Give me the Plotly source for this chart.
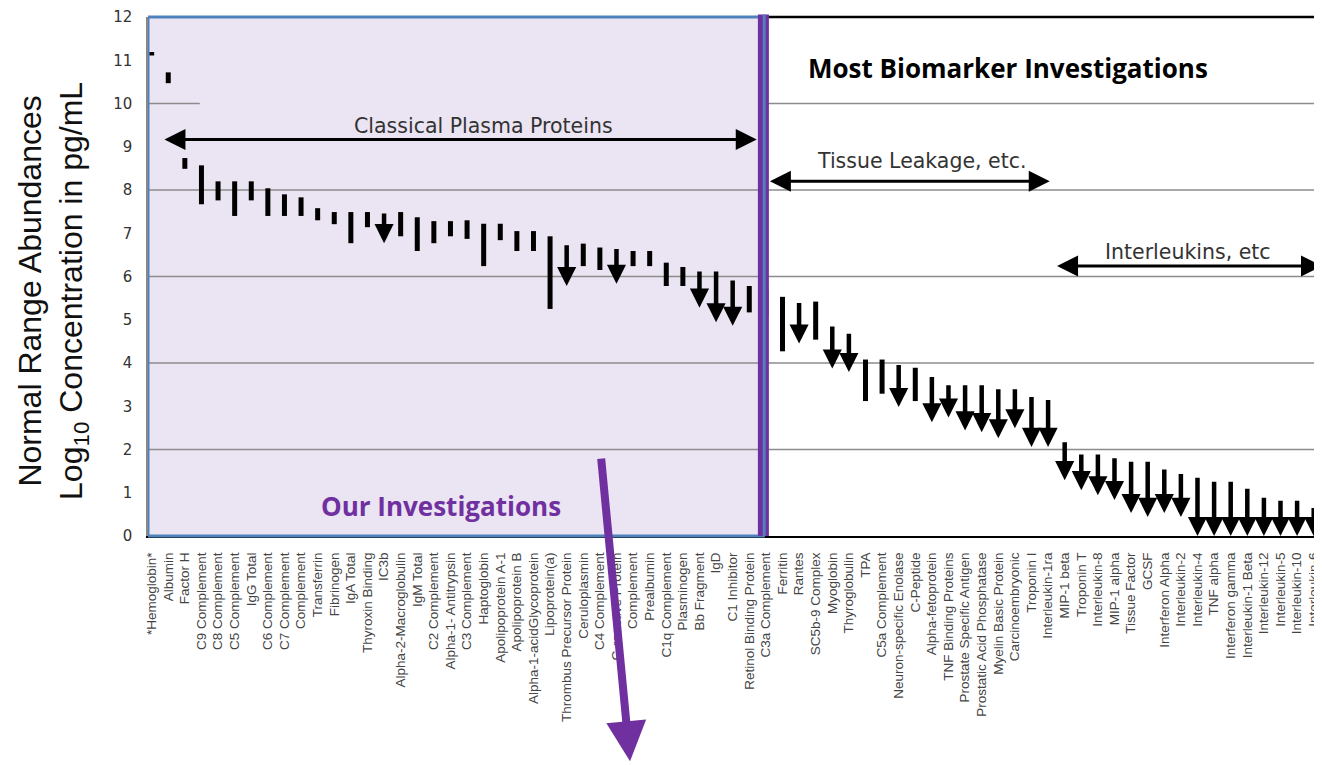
import plotly.graph_objects as go

# ---------------- data ----------------
NAMES = [
    "*Hemoglobin*", "Albumin", "Factor H", "C9 Complement", "C8 Complement",
    "C5 Complement", "IgG Total", "C6 Complement", "C7 Complement", "Complement",
    "Transferrin", "Fibrinogen", "IgA Total", "Thyroxin Binding", "IC3b",
    "Alpha-2-Macroglobulin", "IgM Total", "C2 Complement", "Alpha-1- Antitrypsin",
    "C3 Complement", "Haptoglobin", "Apolipoprotein A-1", "Apolipoprotein B",
    "Alpha-1-acidGlycoprotein", "Lipoprotein(a)", "Thrombus Precursor Protein",
    "Ceruloplasmin", "C4 Complement", "C-reactive Protein", "Complement",
    "Prealbumin", "C1q Complement", "Plasminogen", "Bb Fragment", "IgD",
    "C1 Inhibitor", "Retinol Binding Protein", "C3a Complement", "Ferritin",
    "Rantes", "SC5b-9 Complex", "Myoglobin", "Thyroglobulin", "TPA",
    "C5a Complement", "Neuron-specific Enolase", "C-Peptide", "Alpha-fetoprotein",
    "TNF Binding Proteins", "Prostate Specific Antigen", "Prostatic Acid Phosphatase",
    "Myelin Basic Protein", "Carcinoembryonic", "Troponin I", "Interleukin-1ra",
    "MIP-1 beta", "Troponin T", "Interleukin-8", "MIP-1 alpha", "Tissue Factor",
    "GCSF", "Interferon Alpha", "Interleukin-2", "Interleukin-4", "TNF alpha",
    "Interferon gamma", "Interleukin-1 Beta", "Interleukin-12", "Interleukin-5",
    "Interleukin-10", "Interleukin-6",
]
HIGH = [
    11.19, 10.72, 8.74, 8.57, 8.20, 8.20, 8.20, 8.04, 7.90, 7.83,
    7.58, 7.49, 7.49, 7.49, 7.49, 7.49, 7.37, 7.28, 7.28, 7.30,
    7.22, 7.22, 7.05, 7.05, 6.93, 6.76, 6.76, 6.67, 6.67, 6.59,
    6.59, 6.32, 6.22, 6.15, 6.15, 5.94, 5.78, 5.70, 5.53, 5.42,
    5.42, 4.88, 4.71, 4.08, 4.08, 3.99, 3.89, 3.71, 3.52, 3.52,
    3.52, 3.43, 3.43, 3.25, 3.18, 2.20, 1.92, 1.92, 1.83, 1.75,
    1.75, 1.57, 1.47, 1.38, 1.29, 1.29, 1.13, 0.92, 0.85, 0.85,
    0.68,
]
LOW = [
    11.11, 10.47, 8.49, 7.67, 7.76, 7.40, 7.76, 7.40, 7.40, 7.40,
    7.30, 7.21, 6.77, 7.14, 6.77, 6.93, 6.59, 6.77, 6.93, 6.87,
    6.24, 6.84, 6.59, 6.59, 5.25, 5.78, 6.24, 6.15, 5.83, 6.24,
    6.24, 5.78, 5.78, 5.28, 4.94, 4.86, 5.17, 5.10, 4.27, 4.45,
    4.54, 3.87, 3.79, 3.12, 3.29, 2.98, 3.12, 2.63, 2.74, 2.44,
    2.40, 2.26, 2.49, 2.06, 2.06, 1.29, 1.06, 0.94, 0.83, 0.53,
    0.44, 0.53, 0.44, 0.00, 0.00, 0.00, 0.00, 0.00, 0.00, 0.00,
    0.00,
]
# 1 = only an upper bound known (drawn as a down arrow), 0 = range bar
ARROW = [
    0, 0, 0, 0, 0, 0, 0, 0, 0, 0,
    0, 0, 0, 0, 1, 0, 0, 0, 0, 0,
    0, 0, 0, 0, 0, 1, 0, 0, 1, 0,
    0, 0, 0, 1, 1, 1, 0, 0, 0, 1,
    0, 1, 1, 0, 0, 1, 0, 1, 1, 1,
    1, 1, 1, 1, 1, 1, 1, 1, 1, 1,
    1, 1, 1, 1, 1, 1, 1, 1, 1, 1,
    1,
]
Y_TICKS = list(range(0, 13))
GRID_Y = [2, 4, 6, 8]

# ---------------- layout constants ----------------
XMIN, XMAX = -0.22, 70.5
SPLIT = 36.85          # boundary of "Our Investigations" region
PURPLE = "#7030a0"
BLUE = "#4f81bd"
LAVENDER = "#ebe4f2"
TXT = "#333333"

fig = go.Figure()

# range bars
bx, by = [], []
for i, (h, l, a) in enumerate(zip(HIGH, LOW, ARROW)):
    if not a:
        bx += [i, i, None]
        by += [h, l, None]
fig.add_trace(go.Scatter(x=bx, y=by, mode="lines",
                         line=dict(color="black", width=5),
                         hoverinfo="skip", showlegend=False))

annotations = []
# down arrows (upper limits)
for i, (h, l, a) in enumerate(zip(HIGH, LOW, ARROW)):
    if a:
        annotations.append(dict(
            x=i, y=l, ax=i, ay=h, xref="x", yref="y", axref="x", ayref="y",
            text="", showarrow=True, arrowhead=2, arrowsize=0.85,
            arrowwidth=4.5, arrowcolor="black", standoff=0))

# region double arrows
def dbl(x0, x1, y):
    return dict(x=x1, y=y, ax=x0, ay=y, xref="x", yref="y", axref="x", ayref="y",
                text="", showarrow=True, arrowhead=2, arrowside="end+start",
                arrowsize=1.4, arrowwidth=3, arrowcolor="black", standoff=0)

annotations += [
    dbl(0.68, 36.45, 9.17),
    dbl(37.15, 54.1, 8.2),
    dbl(54.45, 70.5, 6.24),
]

lab_font = dict(family="DejaVu Sans", size=20.5, color=TXT)
annotations += [
    dict(x=19.96, y=9.47, xref="x", yref="y", text="Classical Plasma Proteins",
         showarrow=False, font=lab_font),
    dict(x=46.4, y=8.66, xref="x", yref="y", text="Tissue Leakage, etc.",
         showarrow=False, font=lab_font),
    dict(x=62.4, y=6.56, xref="x", yref="y", text="Interleukins, etc",
         showarrow=False, font=lab_font),
    dict(x=51.6, y=10.82, xref="x", yref="y", text="<b>Most Biomarker Investigations</b>",
         showarrow=False, font=dict(family="Open Sans", size=26, color="black")),
    dict(x=17.43, y=0.69, xref="x", yref="y", text="<b>Our Investigations</b>",
         showarrow=False, font=dict(family="Open Sans", size=26, color=PURPLE)),
    # big purple arrow
    dict(x=0.4106, y=-0.4338, xref="paper", yref="paper", ax=-29, ay=-304,
         axref="pixel", ayref="pixel", text="", showarrow=True, arrowhead=2,
         arrowsize=1.0, arrowwidth=8, arrowcolor=PURPLE, standoff=0),
    # y-axis title
    dict(x=-0.081, y=0.472, xref="paper", yref="paper", textangle=-90,
         text="Normal Range Abundances<br>Log<sub>10</sub> Concentration in pg/mL",
         showarrow=False, xanchor="center", yanchor="middle",
         font=dict(family="Liberation Sans", size=32, color="#111111")),
]

shapes = [
    # lavender region
    dict(type="rect", xref="x", yref="paper", x0=XMIN, x1=SPLIT, y0=0, y1=1,
         fillcolor=LAVENDER, line=dict(width=0), layer="below"),
]
for gy in GRID_Y:
    shapes.append(dict(type="line", xref="paper", yref="y", x0=0, x1=1, y0=gy, y1=gy,
                       line=dict(color="#8c8c8c", width=1.3), layer="below"))
shapes += [
    dict(type="line", xref="x", yref="y", x0=XMIN, x1=2.9, y0=10, y1=10,
         line=dict(color="#8c8c8c", width=1.3), layer="below"),
    dict(type="line", xref="x", yref="y", x0=SPLIT, x1=XMAX, y0=10, y1=10,
         line=dict(color="#8c8c8c", width=1.3), layer="below"),
    # top border on the right region
    dict(type="line", xref="x", yref="paper", x0=SPLIT, x1=XMAX, y0=1, y1=1,
         line=dict(color="black", width=2.5), layer="above"),
    # blue outline of the region
    dict(type="rect", xref="x", yref="paper", x0=XMIN, x1=SPLIT, y0=0, y1=1,
         line=dict(color=BLUE, width=3), fillcolor="rgba(0,0,0,0)", layer="above"),
    # purple divider with blue centre
    dict(type="line", xref="x", yref="paper", x0=SPLIT, x1=SPLIT, y0=0, y1=1.005,
         line=dict(color=PURPLE, width=11), layer="above"),
    dict(type="line", xref="x", yref="paper", x0=SPLIT + 0.05, x1=SPLIT + 0.05, y0=0, y1=1.005,
         line=dict(color=BLUE, width=3), layer="above"),
]

# the page body has an 8px margin, so the figure is shrunk by that amount
fig.update_layout(
    width=1314, height=757,
    margin=dict(l=140, r=0, t=7, b=229),
    plot_bgcolor="white", paper_bgcolor="white",
    showlegend=False,
    annotations=annotations,
    shapes=shapes,
    xaxis=dict(range=[XMIN, XMAX], tickmode="array",
               tickvals=list(range(len(NAMES))), ticktext=NAMES,
               tickangle=-90, ticks="", ticklabelstandoff=9,
               ticklabeloverflow="allow",
               tickfont=dict(family="Liberation Sans", size=13.5, color="#444444"),
               showgrid=False, zeroline=False, showline=True,
               linecolor="black", linewidth=2),
    yaxis=dict(range=[0, 12], tickmode="array", tickvals=Y_TICKS,
               ticks="", ticklabelstandoff=11,
               ticklabeloverflow="allow",
               tickfont=dict(family="DejaVu Sans", size=15, color="#333333"),
               showgrid=False, zeroline=False, showline=True,
               linecolor="#888888", linewidth=1.5),
)

fig.write_html("out.html")
